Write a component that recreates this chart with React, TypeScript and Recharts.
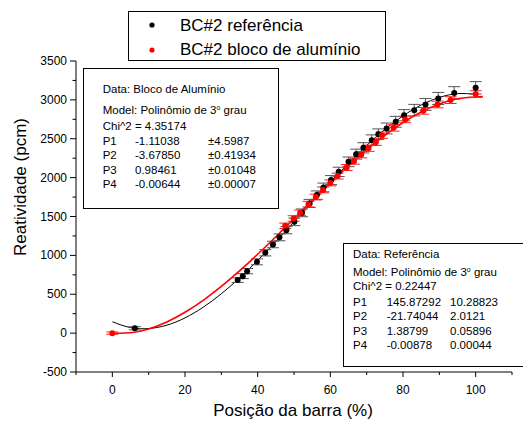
import React from 'react';
import { ComposedChart, XAxis, YAxis, Line, Scatter, ErrorBar } from 'recharts';

// Reference series (black) – measured points
const refX = [6.2, 34.5, 35.9, 37.1, 39.8, 42.1, 44.2, 46.0, 47.9, 50.1, 52.2, 54.3, 56.3, 58.1, 60.2, 62.3, 65.0, 67.1, 69.1, 71.4, 73.2, 75.5, 78.0, 80.3, 83.1, 86.2, 89.7, 94.1, 100];
const refY = [62, 682, 733, 797, 917, 1033, 1140, 1232, 1324, 1431, 1547, 1668, 1775, 1874, 1968, 2074, 2203, 2302, 2383, 2482, 2559, 2632, 2718, 2803, 2868, 2941, 3018, 3090, 3155];
const refErr = [20, 30, 32, 34, 38, 40, 42, 44, 46, 48, 50, 52, 54, 56, 58, 60, 62, 64, 66, 68, 68, 70, 70, 72, 74, 76, 78, 80, 80];

// Aluminium block series (red) – measured points
const alX = [0, 47.6, 49.9, 51.7, 54.0, 56.0, 58.0, 60.0, 62.0, 64.5, 66.5, 68.5, 70.5, 72.5, 74.2, 77.4, 80.6, 85.6, 89.5, 93.1, 100];
const alY = [0, 1380, 1475, 1547, 1659, 1750, 1842, 1932, 2020, 2130, 2212, 2295, 2378, 2456, 2546, 2640, 2748, 2859, 2941, 2997, 3074];
const alErr = [15, 35, 35, 36, 36, 37, 37, 38, 38, 39, 39, 40, 40, 41, 41, 42, 42, 43, 43, 44, 44];

// Fit curves
const refCurveX = [0, 5, 10, 15, 20, 25, 30, 35, 40, 45, 50, 55, 60, 65, 70, 75, 80, 85, 90, 95, 100];
const refCurveY = [146, 71, 59, 102, 196, 333, 506, 709, 935, 1178, 1431, 1688, 1942, 2186, 2414, 2619, 2794, 2934, 3031, 3080, 3072];
const alCurveX = [0, 5, 10, 15, 20, 25, 30, 35, 40, 45, 50, 55, 60, 65, 70, 75, 80, 85, 90, 95, 100, 102];
const alCurveY = [-1, 4, 54, 144, 268, 422, 601, 800, 1015, 1240, 1472, 1704, 1932, 2151, 2357, 2545, 2709, 2845, 2948, 3014, 3037, 3042];

// Axis ticks
const xTicks = [-10, 0, 10, 20, 30, 40, 50, 60, 70, 80, 90, 100, 110];
const xLabels = [0, 20, 40, 60, 80, 100];
const yTicks = [-500, -250, 0, 250, 500, 750, 1000, 1250, 1500, 1750, 2000, 2250, 2500, 2750, 3000, 3250, 3500];
const yLabels = [-500, 0, 500, 1000, 1500, 2000, 2500, 3000, 3500];

// Texts
const legendNames = ['BC#2 referência', 'BC#2 bloco de alumínio'];
const box1Rows = [['P1', '-1.11038', '±4.5987'], ['P2', '-3.67850', '±0.41934'], ['P3', '0.98461', '±0.01048'], ['P4', '-0.00644', '±0.00007']];
const box2Rows = [['P1', '145.87292', '10.28823'], ['P2', '-21.74044', '2.0121'], ['P3', '1.38799', '0.05896'], ['P4', '-0.00878', '0.00044']];

const refData = refX.map((x, i) => ({ x, y: refY[i], err: refErr[i] }));
const alData = alX.map((x, i) => ({ x, y: alY[i], err: alErr[i] }));
const refCurve = refCurveX.map((x, i) => ({ x, y: refCurveY[i] }));
const alCurve = alCurveX.map((x, i) => ({ x, y: alCurveY[i] }));

const FONT = '"Liberation Sans", Arial, sans-serif';

const XTick = (props: any) => {
  const { x, y, payload } = props;
  const v = payload.value;
  const major = xLabels.includes(v);
  return (
    <g>
      <line x1={x} x2={x} y1={y} y2={y + (major ? 5 : 3)} stroke="#000" strokeWidth={1} />
      {major && (
        <text x={x} y={y + 22} textAnchor="middle" fontSize={12} fontFamily={FONT} fill="#000">{v}</text>
      )}
    </g>
  );
};

const YTick = (props: any) => {
  const { x, y, payload } = props;
  const v = payload.value;
  const major = yLabels.includes(v);
  return (
    <g>
      <line x1={x} x2={x - (major ? 6 : 3.5)} y1={y} y2={y} stroke="#000" strokeWidth={1} />
      {major && (
        <text x={x - 9} y={y + 4} textAnchor="end" fontSize={12} fontFamily={FONT} fill="#000">{v}</text>
      )}
    </g>
  );
};

const Dot = (color: string) => (p: any) => <circle cx={p.cx} cy={p.cy} r={3} fill={color} />;

const Model = ({ x, y }: { x: number; y: number }) => (
  <text x={x} y={y} fontSize={11.5} fontFamily={FONT} fill="#000">
    Model: Polinômio de 3<tspan dy={-4} fontSize={7}>o</tspan><tspan dy={4}> grau</tspan>
  </text>
);

export default function App() {
  return (
    <div style={{ position: 'fixed', left: 0, top: 0, width: 523, height: 421, background: '#fff' }}>
      <ComposedChart width={523} height={421} margin={{ top: 61, right: 11, left: 16, bottom: 19 }}>
        <XAxis
          type="number"
          dataKey="x"
          domain={[-10, 110]}
          ticks={xTicks}
          interval={0}
          allowDataOverflow
          tickSize={0}
          tickMargin={0}
          tickLine={false}
          tick={<XTick />}
          axisLine={{ stroke: '#000', strokeWidth: 1 }}
          height={30}
        />
        <YAxis
          type="number"
          dataKey="y"
          domain={[-500, 3500]}
          ticks={yTicks}
          interval={0}
          allowDataOverflow
          tickSize={0}
          tickMargin={0}
          tickLine={false}
          tick={<YTick />}
          axisLine={{ stroke: '#000', strokeWidth: 1 }}
          width={60}
        />
        <Line data={refCurve} dataKey="y" type="natural" stroke="#000" strokeWidth={1} dot={false} isAnimationActive={false} />
        <Scatter data={refData} dataKey="y" shape={Dot('#000')} isAnimationActive={false}>
          <ErrorBar dataKey="err" direction="y" width={6} stroke="#555" strokeWidth={1} isAnimationActive={false} />
        </Scatter>
        <Line data={alCurve} dataKey="y" type="natural" stroke="#ff0000" strokeWidth={1.6} dot={false} isAnimationActive={false} />
        <Scatter data={alData} dataKey="y" shape={Dot('#ff0000')} isAnimationActive={false}>
          <ErrorBar dataKey="err" direction="y" width={6} stroke="#ff2020" strokeWidth={1} isAnimationActive={false} />
        </Scatter>
      </ComposedChart>
      <svg width={523} height={421} style={{ position: 'absolute', left: 0, top: 0, pointerEvents: 'none' }}>
        {/* legend */}
        <rect x={128.5} y={11.5} width={257} height={49} fill="#fff" stroke="#000" strokeWidth={1} />
        <circle cx={152} cy={25} r={2.6} fill="#000" />
        <text x={180} y={30.5} fontSize={17} fontFamily={FONT} fill="#000">{legendNames[0]}</text>
        <circle cx={152} cy={50} r={2.6} fill="#ff0000" />
        <text x={180} y={55} fontSize={17} fontFamily={FONT} fill="#000">{legendNames[1]}</text>

        {/* box 1 */}
        <rect x={83.5} y={68.5} width={195} height={140} fill="#fff" stroke="#000" strokeWidth={1} />
        <text x={102.7} y={93} fontSize={11.5} fontFamily={FONT} fill="#000">Data: Bloco de Alumínio</text>
        <Model x={102.7} y={114} />
        <text x={102.7} y={130} fontSize={11.5} fontFamily={FONT} fill="#000">Chi^2 = 4.35174</text>
        {box1Rows.map((r, i) => (
          <g key={r[0]}>
            <text x={102.7} y={145 + i * 14.4} fontSize={11.5} fontFamily={FONT} fill="#000">{r[0]}</text>
            <text x={135} y={145 + i * 14.4} fontSize={11.5} fontFamily={FONT} fill="#000">{r[1]}</text>
            <text x={208} y={145 + i * 14.4} fontSize={11.5} fontFamily={FONT} fill="#000">{r[2]}</text>
          </g>
        ))}

        {/* box 2 */}
        <rect x={343.5} y={243.5} width={200} height={123} fill="#fff" stroke="#000" strokeWidth={1} />
        <text x={353} y={257.5} fontSize={11.5} fontFamily={FONT} fill="#000">Data: Referência</text>
        <Model x={353} y={275.5} />
        <text x={353} y={290} fontSize={11.5} fontFamily={FONT} fill="#000">Chi^2 = 0.22447</text>
        {box2Rows.map((r, i) => (
          <g key={r[0]}>
            <text x={353} y={305.5 + i * 14.5} fontSize={11.5} fontFamily={FONT} fill="#000">{r[0]}</text>
            <text x={386.7} y={305.5 + i * 14.5} fontSize={11.5} fontFamily={FONT} fill="#000">{r[1]}</text>
            <text x={450} y={305.5 + i * 14.5} fontSize={11.5} fontFamily={FONT} fill="#000">{r[2]}</text>
          </g>
        ))}

        {/* axis titles */}
        <text x={293} y={416} textAnchor="middle" fontSize={17} fontFamily={FONT} fill="#000">Posição da barra (%)</text>
        <text x={26} y={187} textAnchor="middle" fontSize={17} fontFamily={FONT} fill="#000" transform="rotate(-90 26 187)">Reatividade (pcm)</text>
      </svg>
    </div>
  );
}
